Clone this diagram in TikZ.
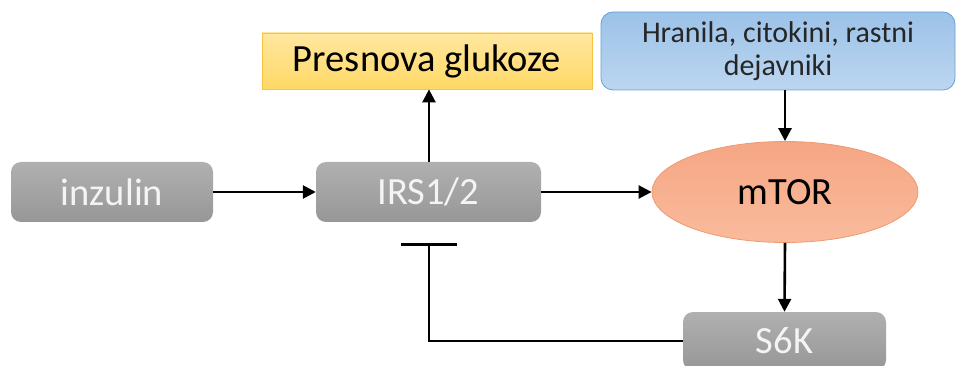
\documentclass[tikz,border=0pt]{standalone}
\usepackage{fontspec}
\setmainfont{Carlito}
\usetikzlibrary{arrows.meta,shapes.geometric}
\definecolor{grayT}{HTML}{B0B0B0}
\definecolor{grayB}{HTML}{979797}
\definecolor{grayTxt}{HTML}{F4F4F4}
\definecolor{yelT}{HTML}{FFE7A0}
\definecolor{yelB}{HTML}{FFD865}
\definecolor{yelD}{HTML}{F5C242}
\definecolor{bluT}{HTML}{9CC2E8}
\definecolor{bluB}{HTML}{BCD6F0}
\definecolor{bluD}{HTML}{6A9FD6}
\definecolor{salT}{HTML}{F6A684}
\definecolor{salB}{HTML}{F9BB9C}
\definecolor{salD}{HTML}{EE9A72}
\tikzset{
  graybox/.style={rectangle, rounded corners=10pt, top color=grayT, bottom color=grayB,
    draw=none, text=grayTxt, font=\fontsize{38.5}{42}\selectfont, inner sep=0pt},
  conn/.style={line width=2.6pt, -{Triangle[length=13pt,width=13pt]}},
  inh/.style={line width=2.6pt, -{Bar[width=56pt,line width=2.6pt]}},
}
\begin{document}
\begin{tikzpicture}[x=1pt,y=-1pt]
\useasboundingbox (0,0) rectangle (956,366);
\node[graybox, minimum width=202pt, minimum height=60pt] (inz) at (112,192) {inzulin};
\node[graybox, minimum width=225pt, minimum height=60pt] (irs) at (428.5,192) {IRS1/2};
\node[rectangle, minimum width=330pt, minimum height=56pt, inner sep=0pt,
  top color=yelT, bottom color=yelB, draw=yelD, line width=0.8pt,
  font=\fontsize{38.5}{42}\selectfont] (pres) at (427,61) {Presnova glukoze};
\node[rectangle, rounded corners=12pt, minimum width=354pt, minimum height=78pt, inner sep=0pt,
  top color=bluT, bottom color=bluB, draw=bluD, line width=0.8pt, align=center,
  font=\fontsize{30}{33}\selectfont, text=black!85] (hran) at (778,51)
  {Hranila, citokini, rastni\\dejavniki};
\node[ellipse, minimum width=266pt, minimum height=101pt, inner sep=0pt,
  top color=salT, bottom color=salB, draw=salD, line width=0.8pt,
  font=\fontsize{38.5}{42}\selectfont] (mtor) at (785,192) {mTOR};
\node[graybox, minimum width=203pt, minimum height=58pt] (s6k) at (784.5,341) {S6K};
\coordinate (bar) at (429,243);
\draw[conn] (inz.east) -- (irs.west);
\draw[conn] (irs.north -| bar) -- (pres.south -| bar);
\draw[conn] (irs.east) -- (mtor.west);
\draw[conn] (hran.south -| mtor.north) -- (mtor.north);
\draw[conn] (mtor.south) -- (s6k.north);
\draw[inh] (s6k.west) -| (bar);
\end{tikzpicture}
\end{document}
